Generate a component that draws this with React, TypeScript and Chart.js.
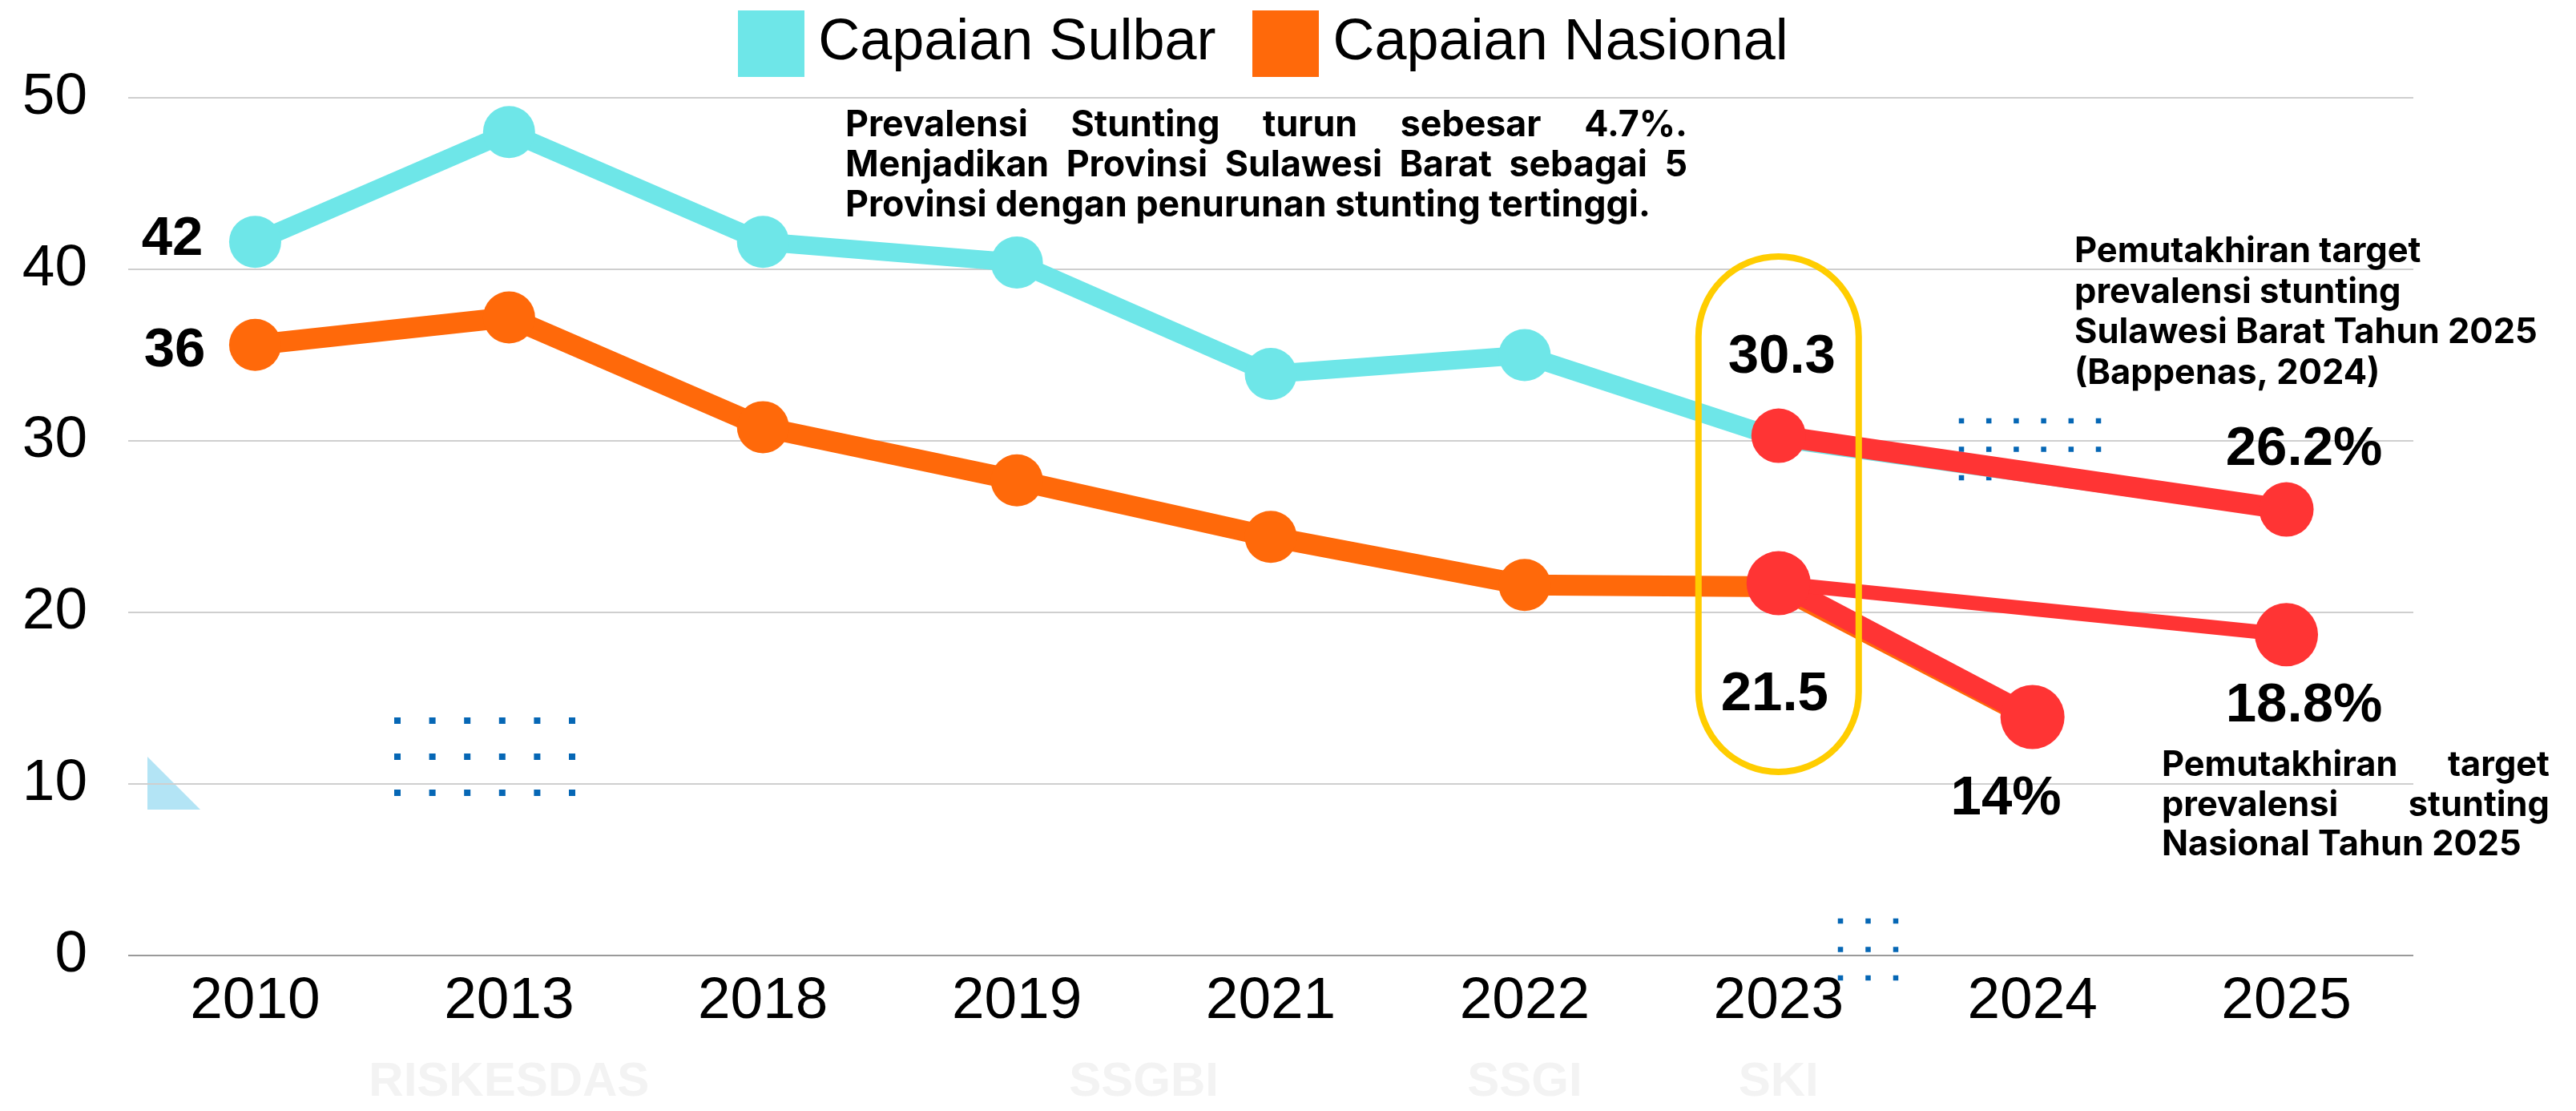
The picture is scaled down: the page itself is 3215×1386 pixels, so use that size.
import { useEffect, useRef } from 'react';
import { Chart, registerables } from 'chart.js';

Chart.register(...registerables);

// ---------- data ----------
const years = ['2010', '2013', '2018', '2019', '2021', '2022', '2023', '2024', '2025'];
const sulbarValues = [41.6, 48.0, 41.6, 40.4, 33.9, 35.0, 30.15, null, 26.0];
const nasionalValues = [35.6, 37.2, 30.8, 27.7, 24.4, 21.6, 21.5, 13.8, null];
const targetSulbarValues = [null, null, null, null, null, null, 30.3, null, 26.0];
const targetNasional2025Values = [null, null, null, null, null, null, 21.7, null, 18.7];
const targetNasional2024Values = [null, null, null, null, null, null, 21.7, 13.9, null];
const yTickValues = [0, 10, 20, 30, 40, 50];
const legendNames = ['Capaian Sulbar', 'Capaian Nasional'];
const sourceNames = ['RISKESDAS', 'SSGBI', 'SSGI', 'SKI'];
const sourceCategoryIndex = [1, 3.5, 5, 6];
const valueLabelTexts = ['42', '36', '30.3', '21.5', '26.2%', '18.8%', '14%'];
const noteDrop = [
  'Prevalensi Stunting turun sebesar 4.7%.',
  'Menjadikan Provinsi Sulawesi Barat sebagai 5',
  'Provinsi dengan penurunan stunting tertinggi.',
];
const noteTargetSulbar = [
  'Pemutakhiran target',
  'prevalensi stunting',
  'Sulawesi Barat Tahun 2025',
  '(Bappenas, 2024)',
];
const noteTargetNasional = [
  'Pemutakhiran target',
  'prevalensi stunting',
  'Nasional Tahun 2025',
];

// ---------- styles ----------
const CYAN = '#6ee6e8';
const ORANGE = '#ff690a';
const RED = '#ff3434';
const SANS = "'Liberation Sans', Arial, sans-serif";
const NOTE_FONT = "Inter, 'Liberation Sans', sans-serif";

const valueLabelAnchors = [
  { ds: 0, i: 0, dx: -65, dy: -9, align: 'right' },
  { ds: 1, i: 0, dx: -62, dy: 2, align: 'right' },
  { ds: 2, i: 6, dx: 4, dy: -104, align: 'center' },
  { ds: 1, i: 6, dx: -5, dy: 129, align: 'center' },
  { ds: 2, i: 8, dx: 22, dy: -81, align: 'center' },
  { ds: 3, i: 8, dx: 22, dy: 83, align: 'center' },
  { ds: 4, i: 7, dx: -33, dy: 96, align: 'center' },
];

function makeSwatch(color: string, size: number) {
  const c = document.createElement('canvas');
  c.width = size;
  c.height = size;
  const g = c.getContext('2d');
  if (g) {
    g.fillStyle = color;
    g.fillRect(0, 0, size, size);
  }
  return c;
}

function drawNote(
  ctx: CanvasRenderingContext2D,
  lines: string[],
  x: number,
  y0: number,
  gap: number,
  width: number,
  justify: boolean[],
  fitIndex: number,
  fitWidth: number
) {
  ctx.save();
  ctx.font = `700 100px ${NOTE_FONT}`;
  const size = (100 * fitWidth) / ctx.measureText(lines[fitIndex]).width;
  ctx.font = `700 ${size}px ${NOTE_FONT}`;
  ctx.fillStyle = '#000';
  ctx.textAlign = 'left';
  ctx.textBaseline = 'alphabetic';
  lines.forEach((line, k) => {
    const y = y0 + k * gap;
    if (justify[k]) {
      const words = line.split(' ');
      const ws = words.map((w) => ctx.measureText(w).width);
      const total = ws.reduce((a, b) => a + b, 0);
      const g = (width - total) / (words.length - 1);
      let cx = x;
      words.forEach((w, j) => {
        ctx.fillText(w, cx, y);
        cx += ws[j] + g;
      });
    } else {
      ctx.fillText(line, x, y);
    }
  });
  ctx.restore();
}

const decorPlugin = {
  id: 'decor',
  beforeDraw(chart: any) {
    const ctx = chart.ctx as CanvasRenderingContext2D;
    ctx.save();
    ctx.fillStyle = '#b3e4f5';
    ctx.beginPath();
    ctx.moveTo(184, 944);
    ctx.lineTo(250, 1010);
    ctx.lineTo(184, 1010);
    ctx.closePath();
    ctx.fill();
    const grids = [
      { x: 496, y: 899, dx: 43.6, dy: 45, cols: 6, rows: 3, s: 8 },
      { x: 2448, y: 525, dx: 34.2, dy: 35.5, cols: 6, rows: 3, s: 6.5 },
      { x: 2297, y: 1149, dx: 34.5, dy: 35.5, cols: 3, rows: 3, s: 6.5 },
    ];
    ctx.fillStyle = '#0667b5';
    grids.forEach((g) => {
      for (let r = 0; r < g.rows; r++) {
        for (let c = 0; c < g.cols; c++) {
          ctx.fillRect(g.x + c * g.dx - g.s / 2, g.y + r * g.dy - g.s / 2, g.s, g.s);
        }
      }
    });
    ctx.restore();
  },
  afterDatasetsDraw(chart: any) {
    const ctx = chart.ctx as CanvasRenderingContext2D;
    const xs = chart.scales.x;
    ctx.save();
    // highlight ring around 2023
    const cx = xs.getPixelForValue(6);
    ctx.strokeStyle = '#ffcd00';
    ctx.lineWidth = 8;
    ctx.beginPath();
    (ctx as any).roundRect(cx - 100, 320, 200, 643, 100);
    ctx.stroke();
    // value labels
    ctx.font = `700 69px ${SANS}`;
    ctx.fillStyle = '#000';
    ctx.textBaseline = 'alphabetic';
    valueLabelAnchors.forEach((a, k) => {
      const pt = chart.getDatasetMeta(a.ds).data[a.i];
      ctx.textAlign = a.align as CanvasTextAlign;
      ctx.fillText(valueLabelTexts[k], pt.x + a.dx, pt.y + a.dy + 25);
    });
    ctx.restore();
  },
  afterDraw(chart: any) {
    const ctx = chart.ctx as CanvasRenderingContext2D;
    drawNote(ctx, noteDrop, 1055, 170, 50, 1051, [true, true, false], 2, 1005);
    drawNote(ctx, noteTargetSulbar, 2589, 327, 50.5, 0, [false, false, false, false], 2, 578);
    drawNote(ctx, noteTargetNasional, 2698, 968, 49.5, 484, [true, true, false], 2, 449);
  },
};

export default function App() {
  const ref = useRef<HTMLCanvasElement | null>(null);

  useEffect(() => {
    document.body.style.margin = '0';
    document.body.style.overflow = 'hidden';
    const canvas = ref.current;
    if (!canvas) return;
    const base = (Chart as any).defaults.plugins.legend.labels.generateLabels;
    const swatches = [makeSwatch(CYAN, 83), makeSwatch(ORANGE, 83)];

    const chart = new Chart(canvas, {
      type: 'line',
      data: {
        labels: years,
        datasets: [
          {
            label: legendNames[0],
            data: sulbarValues,
            borderColor: CYAN,
            backgroundColor: CYAN,
            pointBackgroundColor: CYAN,
            borderWidth: 23,
            pointRadius: [32.5, 32.5, 32.5, 32.5, 32.5, 32.5, 0, 0, 0],
            pointBorderWidth: 0,
            borderJoinStyle: 'round',
            spanGaps: true,
            order: 1,
          },
          {
            label: legendNames[1],
            data: nasionalValues,
            borderColor: ORANGE,
            backgroundColor: ORANGE,
            pointBackgroundColor: ORANGE,
            borderWidth: 26,
            pointRadius: [32.5, 32.5, 32.5, 32.5, 32.5, 32.5, 0, 0, 0],
            pointBorderWidth: 0,
            borderJoinStyle: 'round',
            spanGaps: true,
            order: 2,
          },
          {
            label: 'Target Sulbar 2025',
            data: targetSulbarValues,
            borderColor: RED,
            backgroundColor: RED,
            pointBackgroundColor: RED,
            borderWidth: 26,
            pointRadius: 34,
            pointBorderWidth: 0,
            spanGaps: true,
            order: 0,
          },
          {
            label: 'Target Nasional 2025',
            data: targetNasional2025Values,
            borderColor: RED,
            backgroundColor: RED,
            pointBackgroundColor: RED,
            borderWidth: 18,
            pointRadius: 39.5,
            pointBorderWidth: 0,
            spanGaps: true,
            order: 0,
          },
          {
            label: 'Target Nasional 2024',
            data: targetNasional2024Values,
            borderColor: RED,
            backgroundColor: RED,
            pointBackgroundColor: RED,
            borderWidth: 26,
            pointRadius: 40,
            pointBorderWidth: 0,
            spanGaps: true,
            order: 0,
          },
        ],
      },
      options: {
        responsive: false,
        devicePixelRatio: 1,
        animation: false,
        events: [],
        layout: { padding: { top: -46.5, left: 28, right: 203, bottom: 0 } },
        scales: {
          x: {
            type: 'category',
            offset: true,
            grid: { display: false, drawTicks: false },
            border: { display: false },
            afterFit: (scale: any) => {
              scale.height = 102;
            },
            ticks: {
              color: '#000',
              font: { family: SANS, size: 73 },
              padding: 14,
              maxRotation: 0,
              autoSkip: false,
            },
          },
          x2: {
            type: 'linear',
            position: 'bottom',
            min: -0.5,
            max: 8.5,
            grid: { display: false, drawTicks: false },
            border: { display: false },
            afterFit: (scale: any) => {
              scale.height = 92;
            },
            afterBuildTicks: (scale: any) => {
              scale.ticks = sourceCategoryIndex.map((v) => ({ value: v }));
            },
            ticks: {
              color: '#f3f3f3',
              font: { family: SANS, size: 60, weight: 'bold' },
              padding: 20,
              maxRotation: 0,
              autoSkip: false,
              callback: (value: any) => sourceNames[sourceCategoryIndex.indexOf(Number(value))] ?? '',
            },
          },
          y: {
            min: 0,
            max: 50,
            afterBuildTicks: (scale: any) => {
              scale.ticks = yTickValues.map((v) => ({ value: v }));
            },
            afterFit: (scale: any) => {
              scale.width = 132;
            },
            grid: {
              drawTicks: false,
              lineWidth: 2,
              color: (c: any) => (c.tick && c.tick.value === 0 ? '#9a9a9a' : '#cfcfcf'),
            },
            border: { display: false },
            ticks: {
              color: '#000',
              font: { family: SANS, size: 73 },
              padding: 51,
            },
          },
        },
        plugins: {
          legend: {
            display: true,
            position: 'top',
            fullSize: false,
            labels: {
              usePointStyle: true,
              pointStyleWidth: 45,
              boxHeight: 72,
              padding: 65,
              color: '#000',
              font: { family: SANS, size: 72 },
              generateLabels: (ch: any) =>
                base(ch)
                  .filter((l: any) => l.datasetIndex < 2)
                  .map((l: any) => ({
                    ...l,
                    pointStyle: swatches[l.datasetIndex],
                    lineWidth: 0,
                    strokeStyle: 'rgba(0,0,0,0)',
                  })),
            },
          },
          title: {
            display: true,
            text: '',
            weight: 500,
            padding: { top: 0, bottom: 20.5 },
            font: { size: 1, lineHeight: 1 },
          },
          tooltip: { enabled: false },
        },
      } as any,
      plugins: [decorPlugin],
    });

    return () => chart.destroy();
  }, []);

  return (
    <canvas
      ref={ref}
      width={3215}
      height={1386}
      style={{ display: 'block', width: '3215px', height: '1386px' }}
    />
  );
}
